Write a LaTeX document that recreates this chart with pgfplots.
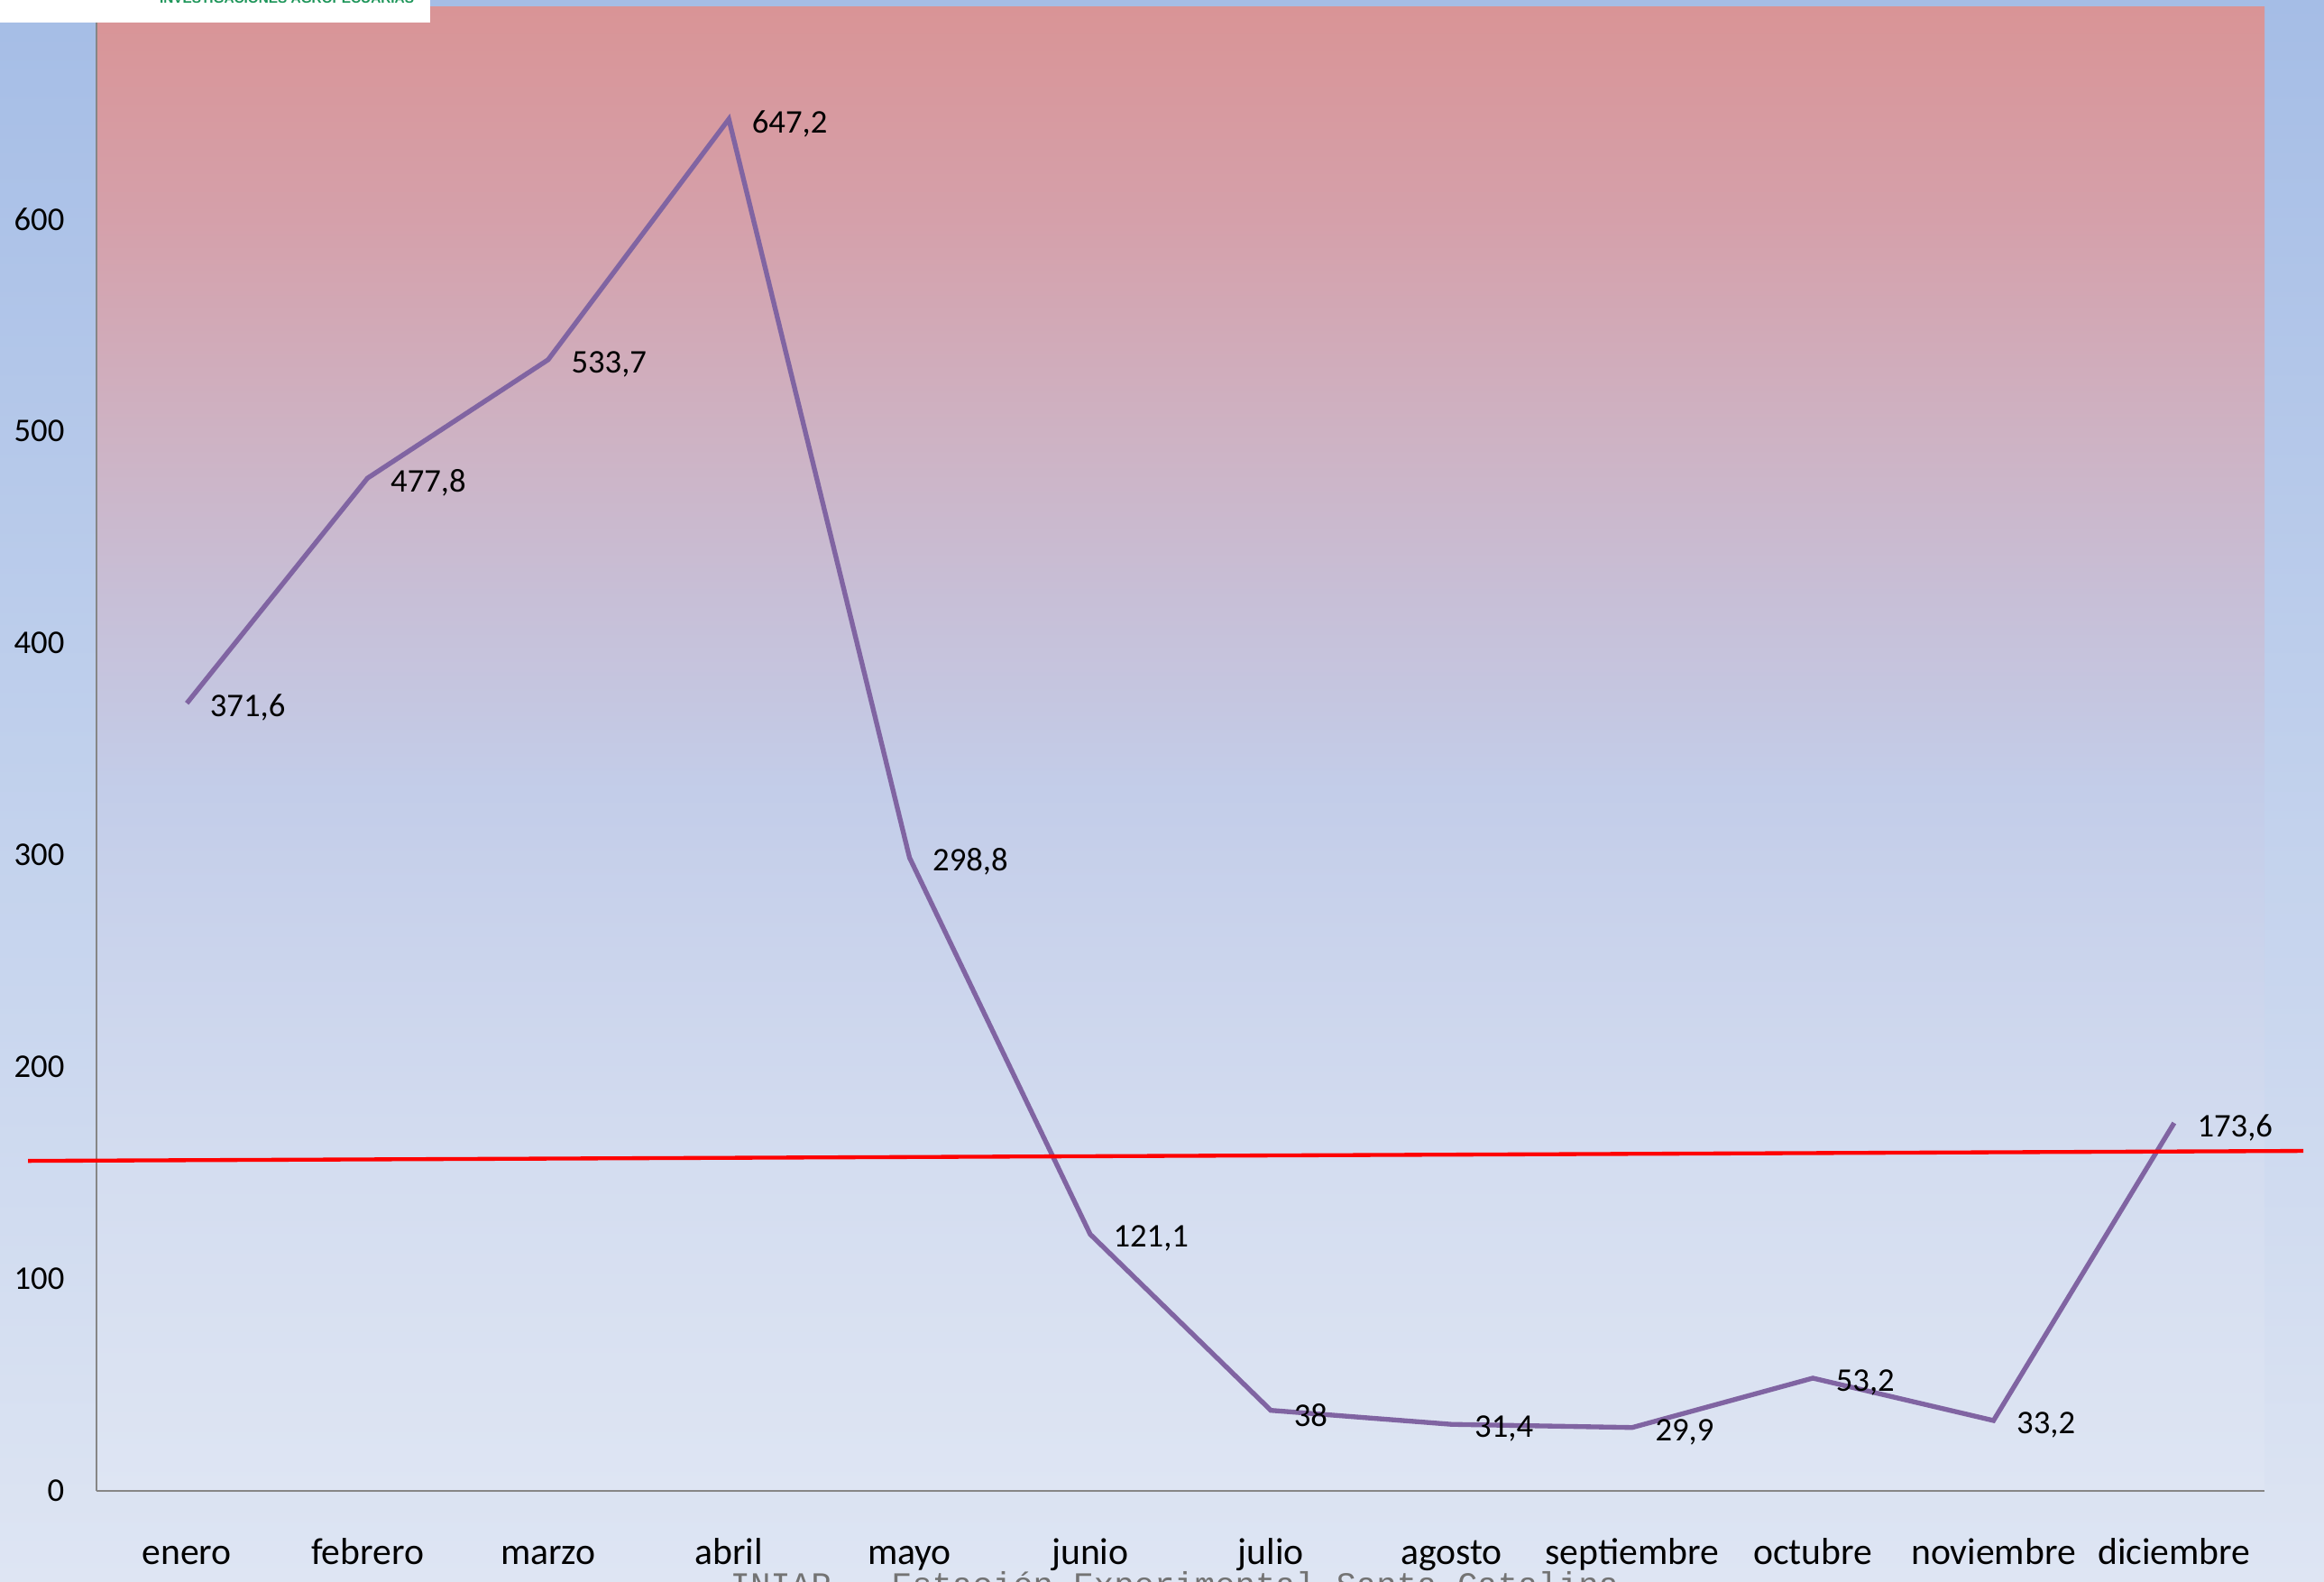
\documentclass[border=0pt]{standalone}
\usepackage{pgfplots}
\pgfplotsset{compat=1.18}
\usepackage{fontspec}
\setmainfont{Carlito}
\newfontfamily\monofont{Liberation Mono}
\newfontfamily\logofont{Liberation Sans}
\definecolor{bgtop}{RGB}{165,189,230}
\definecolor{bgbot}{RGB}{222,229,243}
\definecolor{pb0}{RGB}{222,229,243}
\definecolor{pb1}{RGB}{212,221,240}
\definecolor{pb2}{RGB}{195,205,233}
\definecolor{pb3}{RGB}{199,191,215}
\definecolor{pb4}{RGB}{206,178,195}
\definecolor{pb5}{RGB}{213,160,170}
\definecolor{pb6}{RGB}{217,148,150}
\definecolor{axisgray}{RGB}{134,134,134}
\definecolor{purpleline}{RGB}{128,100,162}
\definecolor{logogreen}{RGB}{30,150,90}
\definecolor{foottext}{RGB}{115,115,115}
\pgfdeclareverticalshading{plotbg}{100bp}{color(0bp)=(pb0); color(25bp)=(pb0); color(35.7bp)=(pb1); color(48.6bp)=(pb2); color(55bp)=(pb3); color(60.7bp)=(pb4); color(67.9bp)=(pb5); color(75bp)=(pb6); color(100bp)=(pb6)}
\begin{document}
\begin{tikzpicture}
\path[use as bounding box] (0,0) rectangle (773.1pt,526.2pt);
\clip (0,0) rectangle (773.1pt,526.2pt);
\shade[top color=bgtop, bottom color=bgbot] (0,0) rectangle (773.1pt,526.2pt);
\begin{axis}[
  at={(32.1pt,30.3pt)}, anchor=south west,
  scale only axis, width=721.2pt, height=493.5pt,
  xmin=-0.5, xmax=11.5, ymin=0, ymax=700,
  axis lines*=left,
  axis line style={draw=axisgray, line width=0.6pt},
  xtick={0,...,11},
  xticklabels={enero,febrero,marzo,abril,mayo,junio,julio,agosto,septiembre,octubre,noviembre,diciembre},
  ytick={0,100,...,600},
  major tick length=0pt,
  tick label style={font=\fontsize{11}{13}\selectfont, inner sep=0pt, text=black},
  xticklabel style={font=\fontsize{12.5}{15}\selectfont, anchor=base, yshift=-24.6pt},
  yticklabel style={anchor=east, xshift=-10.5pt},
  /pgf/number format/assume math mode=true,
  clip=false,
  axis background/.style={shading=plotbg},
]
\addplot[color=purpleline, line width=1.6pt, mark=none,
  nodes near coords={\pgfmathprintnumber[use comma,fixed,precision=1,assume math mode=true]{\pgfplotspointmeta}},
  nodes near coords style={anchor=west, xshift=6.9pt, yshift=-1.5pt, inner sep=0pt, font=\fontsize{11}{13}\selectfont, text=black}]
coordinates {(0,371.6) (1,477.8) (2,533.7) (3,647.2) (4,298.8) (5,121.1) (6,38) (7,31.4) (8,29.9) (9,53.2) (10,33.2) (11,173.6)};
\addplot[color=red, line width=1.3pt, mark=none] coordinates {(-0.879,155.7) (11.715,160.4)};
\end{axis}
\fill[white] (0,518.7pt) rectangle (143.1pt,527pt);
\node[anchor=base, inner sep=0pt, font=\fontsize{4.6}{5}\selectfont\logofont\bfseries, text=logogreen] at (95.4pt,525pt) {INVESTIGACIONES AGROPECUARIAS};
\node[anchor=base west, inner sep=0pt, font=\fontsize{11.2}{13}\selectfont\monofont, text=foottext] at (242.7pt,-4.65pt) {INIAP - Estación Experimental Santa Catalina};
\end{tikzpicture}
\end{document}
